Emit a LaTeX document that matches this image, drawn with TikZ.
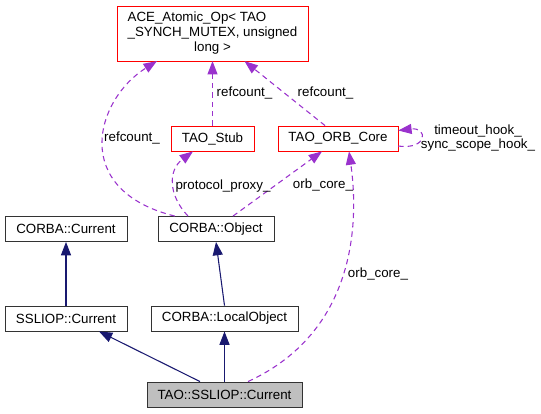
\documentclass[tikz,border=0pt]{standalone}
\usepackage{fontspec}
\setmainfont{Liberation Sans}
\usepackage{xcolor}
\usetikzlibrary{positioning,arrows.meta,calc}
\definecolor{navy}{HTML}{191970}
\definecolor{orchid}{HTML}{9A32CD}
\tikzset{
  class box/.style={
     draw=black!80,
     rectangle,
     inner sep=2pt,
     minimum height=19pt,
     font=\fontsize{10}{11}\selectfont
  },
  ref box/.style={class box, draw=red},
  base wire/.style={draw=navy, line width=0.8pt, -{Triangle[length=10pt,width=7.5pt]}},
  member wire/.style={draw=orchid, line width=0.8pt, dash pattern=on 4pt off 3pt,
     -{Triangle[length=10pt,width=7.5pt]}},
  member label/.style={inner sep=0pt, font=\fontsize{10}{10}\selectfont},
}
\begin{document}
\begin{tikzpicture}[x=0.75pt, y=-0.75pt]
  \useasboundingbox (0,0) rectangle (541,413);
  % Boxes
  \node[ref box, minimum width=143pt, minimum height=41pt] (ace) at (212.5,33.5)
     {\begin{tabular}{@{}l@{}}ACE\_Atomic\_Op< TAO\\\_SYNCH\_MUTEX, unsigned\\\multicolumn{1}{@{}c@{}}{long >}\end{tabular}};
  \node[ref box, minimum width=62pt] (stub) at (212.5,138.5) {TAO\_Stub};
  \node[ref box, minimum width=90pt] (orb) at (338,138.5) {TAO\_ORB\_Core};
  \node[class box, minimum width=91.5pt] (ccur) at (66,229) {CORBA::Current};
  \node[class box, minimum width=87pt] (cobj) at (216,229) {CORBA::Object};
  \node[class box, minimum width=91.5pt] (scur) at (66,318.5) {SSLIOP::Current};
  \node[class box, minimum width=110pt] (lobj) at (224.5,318.5) {CORBA::LocalObject};
  \node[class box, fill=black!25, minimum width=116pt] (tcur) at (224.5,394.5) {TAO::SSLIOP::Current};

  % Inheritance
  \draw[base wire] (scur) -- (ccur);
  \draw[base wire] (lobj.north) -- (cobj.south);
  \draw[base wire] ($(tcur.north)+(-24.5,0)$) -- ($(scur.south)+(33,0)$);
  \draw[base wire] (tcur) -- (lobj);

  % Members
  \draw[member wire] ($(cobj.north west)+(17,0)$) .. controls (70,190) and (95,100) .. ($(ace.south west)+(40,0)$);
  \draw[member wire] (stub) -- (ace);
  \draw[member wire] ($(orb.north)+(-13,0)$) -- ($(ace.south)+(32,0)$);
  \draw[member wire] ($(cobj.north)+(-28,0)$) .. controls (168,195) and (168,170) .. ($(stub.south)+(-19.5,0)$);
  \draw[member wire] ($(cobj.north)+(17,0)$) -- ($(orb.south)+(-16,0)$);
  \draw[member wire] ($(tcur.north)+(23.5,0)$) .. controls (360,330) and (358,215) .. ($(orb.south)+(11,0)$);
  \draw[member wire] ($(orb.east)+(0,7.5)$) .. controls (428,150) and (428,127) .. ($(orb.east)+(0,-8)$);

  % Labels
  \node[member label] (rc1) at (132,138) {refcount\_};
  \node[member label] (rc2) at (244.5,93) {refcount\_};
  \node[member label] (rc3) at (325.5,93) {refcount\_};
  \node[member label] (pp) at (223,186) {protocol\_proxy\_};
  \node[member label] (oc1) at (323,185) {orb\_core\_};
  \node[member label] (oc2) at (378,274) {orb\_core\_};
  \node[member label, align=center] (hooks) at (478,138) {timeout\_hook\_\\sync\_scope\_hook\_};
\end{tikzpicture}
\end{document}
